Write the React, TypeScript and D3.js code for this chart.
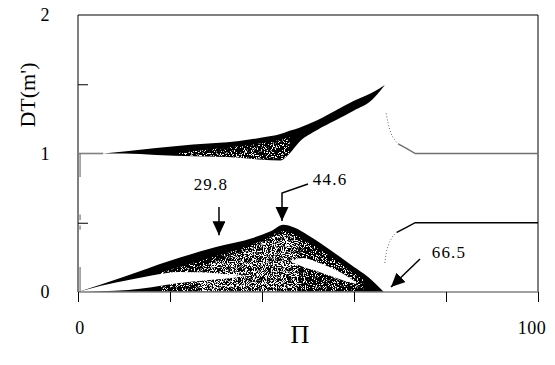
import { useEffect, useRef } from "react";
import * as d3 from "d3";

// upper branch, around DT = 1
const upperBandX = [5.5, 10, 17, 25, 35, 40, 44, 46, 48, 52, 56, 60, 64, 66.7];
const upperBandLo = [1.0, 1.0, 0.99, 0.98, 0.97, 0.955, 0.95, 1.0, 1.08, 1.17, 1.24, 1.31, 1.39, 1.495];
const upperBandHi = [1.0, 1.015, 1.04, 1.065, 1.09, 1.115, 1.14, 1.165, 1.185, 1.24, 1.31, 1.38, 1.44, 1.495];

// speckled (chaotic) part of the upper branch
const upperChaosX = [22, 30, 38, 44, 46];
const upperChaosLo = [0.99, 0.975, 0.96, 0.955, 1.0];
const upperChaosHi = [1.005, 1.035, 1.065, 1.1, 1.12];

// lower branch, starting from the origin
const lowerTopX = [0, 10, 20, 30, 38, 42, 44.6, 47, 50, 55, 60, 63, 66.5];
const lowerTopY = [0, 0.11, 0.225, 0.325, 0.39, 0.44, 0.485, 0.465, 0.41, 0.3, 0.18, 0.11, 0];

const lowerChaosX = [18, 26, 34, 40, 44.6, 50, 56, 62];
const lowerChaosHi = [0.14, 0.22, 0.3, 0.37, 0.44, 0.36, 0.23, 0.09];
const lowerDenseX = [26, 32, 38, 44.6, 48];
const lowerDenseHi = [0.16, 0.25, 0.32, 0.42, 0.37];

// empty gaps inside the lower branch
const gapLeftX = [0.5, 5, 11, 16, 22, 28, 33, 37];
const gapLeftLo = [0.0, 0.005, 0.015, 0.035, 0.065, 0.085, 0.1, 0.115];
const gapLeftHi = [0.005, 0.045, 0.087, 0.12, 0.145, 0.14, 0.125, 0.115];
const gapRightX = [46.5, 49, 52, 55, 58, 60.5];
const gapRightLo = [0.215, 0.18, 0.15, 0.115, 0.08, 0.06];
const gapRightHi = [0.225, 0.245, 0.215, 0.175, 0.125, 0.07];

// periodic tails after the chaotic region
const upperTailX = [67, 67.4, 68, 68.8, 69.6, 71.5, 73.3, 100];
const upperTailY = [1.29, 1.22, 1.15, 1.1, 1.07, 1.035, 1.0, 1.0];
const lowerTailX = [66.7, 67.0, 67.5, 68.2, 69.3, 71.3, 73.3, 100];
const lowerTailY = [0.21, 0.28, 0.34, 0.39, 0.43, 0.465, 0.5, 0.5];
const tailBreak = 69.2;

// start of the upper branch and the points near Π = 0
const upperLeadX = [0, 5.5];
const upperLeadY = [1, 1];
const nearZeroSegments = [[1.0, 0.83], [0.18, 0.0], [0.56, 0.52], [0.48, 0.45]];

const xTicks = [0, 20, 40, 60, 80, 100];
const xTickLabels = [0, 100];
const yTicks = [0.5, 1.5];
const yTickLabels = [0, 1, 2];

const annotationLabels = ["29.8", "44.6", "66.5"];

export default function App() {
  const svgRef = useRef<SVGSVGElement>(null);

  useEffect(() => {
    const w = 555;
    const h = 365;
    const svg = d3.select(svgRef.current).attr("width", w).attr("height", h);
    svg.selectAll("*").remove();

    const x = d3.scaleLinear().domain([0, 100]).range([78, 538]);
    const y = d3.scaleLinear().domain([0, 2]).range([292, 15]);
    const serif = "'Liberation Serif', 'DejaVu Serif', serif";

    // speckle filters: white dots inside the shape
    const defs = svg.append("defs");
    const addSpeckle = (id: string, freq: number, a: number, b: number, seed: number) => {
      const f = defs
        .append("filter")
        .attr("id", id)
        .attr("filterUnits", "userSpaceOnUse")
        .attr("x", 0)
        .attr("y", 0)
        .attr("width", w)
        .attr("height", h)
        .attr("color-interpolation-filters", "sRGB");
      f.append("feTurbulence")
        .attr("type", "fractalNoise")
        .attr("baseFrequency", freq)
        .attr("numOctaves", 2)
        .attr("seed", seed)
        .attr("result", "noise");
      f.append("feColorMatrix")
        .attr("in", "noise")
        .attr("type", "matrix")
        .attr("values", `0 0 0 0 1  0 0 0 0 1  0 0 0 0 1  ${a} 0 0 0 ${b}`)
        .attr("result", "dots");
      f.append("feComposite").attr("in", "dots").attr("in2", "SourceGraphic").attr("operator", "in");
    };
    addSpeckle("speckleLight", 0.9, 14, -7.9, 3);
    addSpeckle("speckleDense", 0.9, 10, -5.2, 8);

    defs
      .append("marker")
      .attr("id", "head")
      .attr("markerUnits", "userSpaceOnUse")
      .attr("markerWidth", 15)
      .attr("markerHeight", 14)
      .attr("refX", 14)
      .attr("refY", 6.5)
      .attr("orient", "auto")
      .append("path")
      .attr("d", "M0,0 L14,6.5 L0,13 Z")
      .attr("fill", "#000");

    const band = (xs: number[], lo: number[], hi: number[]) =>
      d3
        .area<number>()
        .x((d) => x(xs[d]))
        .y0((d) => y(lo[d]))
        .y1((d) => y(hi[d]))
        .curve(d3.curveMonotoneX)(d3.range(xs.length));

    const zeros = (n: number) => d3.range(n).map(() => 0);

    // black bands
    svg.append("path").attr("d", band(upperBandX, upperBandLo, upperBandHi)).attr("fill", "#000");
    svg.append("path").attr("d", band(lowerTopX, zeros(lowerTopX.length), lowerTopY)).attr("fill", "#000");

    // speckles
    svg
      .append("path")
      .attr("d", band(upperChaosX, upperChaosLo, upperChaosHi))
      .attr("fill", "#000")
      .attr("filter", "url(#speckleLight)");
    svg
      .append("path")
      .attr("d", band(lowerChaosX, lowerChaosX.map(() => 0.005), lowerChaosHi))
      .attr("fill", "#000")
      .attr("filter", "url(#speckleLight)");
    svg
      .append("path")
      .attr("d", band(lowerDenseX, lowerDenseX.map(() => 0.005), lowerDenseHi))
      .attr("fill", "#000")
      .attr("filter", "url(#speckleDense)");

    // white gaps
    svg.append("path").attr("d", band(gapLeftX, gapLeftLo, gapLeftHi)).attr("fill", "#fff");
    svg.append("path").attr("d", band(gapRightX, gapRightLo, gapRightHi)).attr("fill", "#fff");

    // frame
    const frame = svg.append("g").attr("fill", "none");
    frame.append("line").attr("x1", x(0)).attr("x2", x(100)).attr("y1", y(2)).attr("y2", y(2)).attr("stroke", "#000");
    frame.append("line").attr("x1", x(0)).attr("x2", x(0)).attr("y1", y(2)).attr("y2", y(0)).attr("stroke", "#000");
    frame.append("line").attr("x1", x(100)).attr("x2", x(100)).attr("y1", y(2)).attr("y2", y(0)).attr("stroke", "#000");
    frame
      .append("line")
      .attr("x1", x(0))
      .attr("x2", x(100))
      .attr("y1", y(0))
      .attr("y2", y(0))
      .attr("stroke", "#808080")
      .attr("stroke-width", 1.6);

    // lines
    const line = d3
      .line<[number, number]>()
      .x((d) => x(d[0]))
      .y((d) => y(d[1]));
    const pts = (xs: number[], ys: number[]) => xs.map((v, i) => [v, ys[i]] as [number, number]);

    svg
      .append("path")
      .attr("d", line(pts(upperLeadX, upperLeadY)))
      .attr("fill", "none")
      .attr("stroke", "#808080")
      .attr("stroke-width", 1.6);

    const tail = (xs: number[], ys: number[], solid: string) => {
      const p = pts(xs, ys);
      const cut = p.findIndex((d) => d[0] >= tailBreak);
      svg
        .append("path")
        .attr("d", line.curve(d3.curveMonotoneX)(p.slice(0, cut + 1)))
        .attr("fill", "none")
        .attr("stroke", "#666")
        .attr("stroke-width", 1)
        .attr("stroke-dasharray", "1 2");
      svg
        .append("path")
        .attr("d", line.curve(d3.curveLinear)(p.slice(cut)))
        .attr("fill", "none")
        .attr("stroke", solid)
        .attr("stroke-width", 1.4);
    };
    tail(upperTailX, upperTailY, "#707070");
    tail(lowerTailX, lowerTailY, "#000");

    svg
      .append("g")
      .selectAll("line")
      .data(nearZeroSegments)
      .join("line")
      .attr("x1", x(0.45))
      .attr("x2", x(0.45))
      .attr("y1", (d) => y(d[0]))
      .attr("y2", (d) => y(d[1]))
      .attr("stroke", "#777")
      .attr("stroke-width", 1.2);

    // axes
    svg
      .append("g")
      .attr("transform", `translate(0, ${y(0)})`)
      .call(d3.axisBottom(x).tickValues(xTicks).tickSize(10).tickFormat(() => ""))
      .call((g) => g.select(".domain").remove())
      .selectAll("line")
      .attr("stroke", "#000");
    svg
      .append("g")
      .attr("transform", `translate(${x(0)}, 0)`)
      .call(d3.axisRight(y).tickValues(yTicks).tickSize(10).tickFormat(() => ""))
      .call((g) => g.select(".domain").remove())
      .selectAll("line")
      .attr("stroke", "#000");

    const labels = svg.append("g").attr("font-family", serif).attr("fill", "#000");
    labels
      .selectAll(".xl")
      .data(xTickLabels)
      .join("text")
      .attr("x", (d) => x(d) + (d === 100 ? -6 : 2))
      .attr("y", 334)
      .attr("text-anchor", "middle")
      .attr("font-size", 18)
      .attr("letter-spacing", 0.5)
      .text((d) => d);
    labels
      .selectAll(".yl")
      .data(yTickLabels)
      .join("text")
      .attr("x", 45)
      .attr("y", (d) => y(d) + 6)
      .attr("text-anchor", "middle")
      .attr("font-size", 18)
      .text((d) => d);
    labels
      .append("text")
      .attr("x", 300)
      .attr("y", 343)
      .attr("text-anchor", "middle")
      .attr("font-size", 26)
      .text("Π");
    labels
      .append("text")
      .attr("transform", "translate(35, 95) rotate(-90)")
      .attr("text-anchor", "middle")
      .attr("font-size", 22)
      .text("DT(m')");

    // annotations
    const notes = [
      { label: annotationLabels[0], at: [28.9, 0.736], path: [[30.65, 0.614], [30.65, 0.41]] },
      { label: annotationLabels[1], at: [54.8, 0.773], path: [[50, 0.78], [44.35, 0.715], [44.35, 0.513]] },
      { label: annotationLabels[2], at: [80.65, 0.245], path: [[74.35, 0.238], [68.04, 0.036]] },
    ];
    const ann = svg.append("g");
    notes.forEach((n) => {
      ann
        .append("text")
        .attr("x", x(n.at[0]))
        .attr("y", y(n.at[1]))
        .attr("text-anchor", "middle")
        .attr("font-family", serif)
        .attr("font-size", 17)
        .attr("letter-spacing", 1.2)
        .text(n.label);
      ann
        .append("path")
        .attr("d", line.curve(d3.curveLinear)(n.path as [number, number][]))
        .attr("fill", "none")
        .attr("stroke", "#000")
        .attr("stroke-width", 1.5)
        .attr("marker-end", "url(#head)");
    });
  }, []);

  return (
    <div style={{ position: "absolute", left: 0, top: 0 }}>
      <svg ref={svgRef} style={{ display: "block", background: "#fff" }}></svg>
    </div>
  );
}
